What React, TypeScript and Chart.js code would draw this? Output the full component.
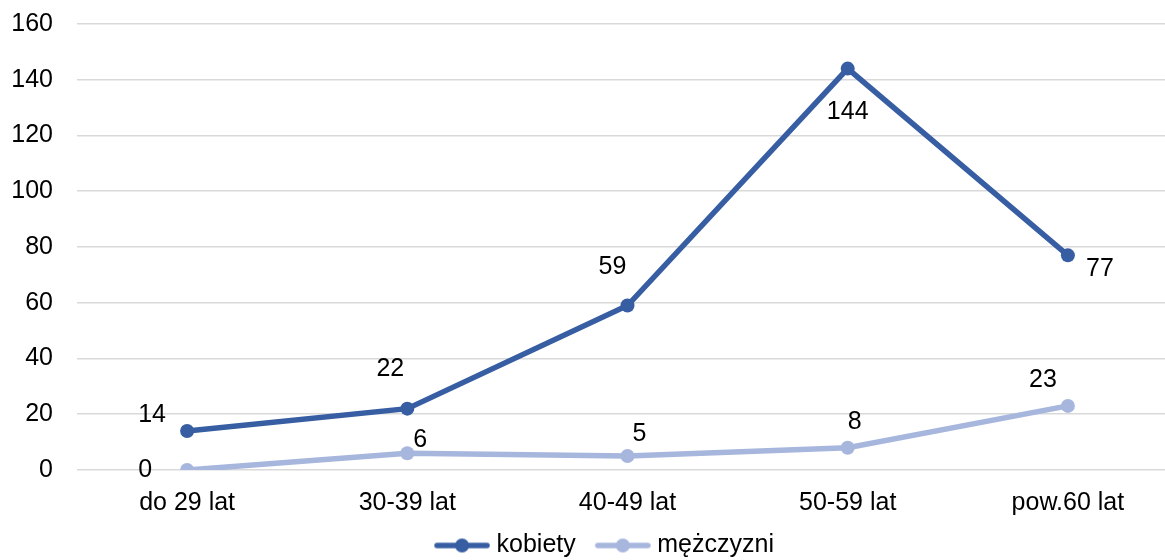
import React, { useEffect, useRef } from "react";
import { Chart, registerables } from "chart.js";

Chart.register(...registerables);

const categories = ["do 29 lat", "30-39 lat", "40-49 lat", "50-59 lat", "pow.60 lat"];
const kobiety = [14, 22, 59, 144, 77];
const mezczyzni = [0, 6, 5, 8, 23];
const seriesNames = ["kobiety", "mężczyzni"];
const yTicks = { min: 0, max: 160, step: 20 };

const colorK = "#375DA2";
const colorM = "#A7B6DD";
const FONT = "'Liberation Sans', Arial, sans-serif";
const FS = 25;
const LW = 5.5;

// data label offsets (dx, dy) relative to each point, per dataset
const labelOffsets = [
  [[-35, -16], [-17, -40], [-15, -38], [0, 44], [32, 14]],
  [[-42, 0], [13, -13], [12, -22], [7, -26], [-25, -26]],
];

function makeMarker(color: string) {
  const c = document.createElement("canvas");
  c.width = 66;
  c.height = 16;
  const ctx = c.getContext("2d")!;
  const a = 10;
  ctx.strokeStyle = color;
  ctx.lineWidth = LW;
  ctx.lineCap = "round";
  ctx.beginPath();
  ctx.moveTo(a + 3, 8);
  ctx.lineTo(a + 53, 8);
  ctx.stroke();
  ctx.fillStyle = color;
  ctx.beginPath();
  ctx.arc(a + 28, 8, 7, 0, Math.PI * 2);
  ctx.fill();
  return c;
}

const dataLabelPlugin = {
  id: "dataLabels",
  afterDatasetsDraw(chart: any) {
    const ctx = chart.ctx;
    ctx.save();
    ctx.font = `${FS}px ${FONT}`;
    ctx.fillStyle = "#000";
    ctx.textAlign = "center";
    ctx.textBaseline = "middle";
    chart.data.datasets.forEach((ds: any, di: number) => {
      const meta = chart.getDatasetMeta(di);
      meta.data.forEach((pt: any, i: number) => {
        const off = labelOffsets[di][i];
        ctx.fillText(String(ds.data[i]), pt.x + off[0], pt.y + off[1]);
      });
    });
    ctx.restore();
  },
};

export default function App() {
  const ref = useRef<HTMLCanvasElement | null>(null);
  useEffect(() => {
    document.body.style.overflow = "hidden";
    const mk = makeMarker(colorK);
    const mm = makeMarker(colorM);
    const chart = new Chart(ref.current!, {
      type: "line",
      data: {
        labels: categories,
        datasets: [
          {
            label: seriesNames[0],
            data: kobiety,
            borderColor: colorK,
            backgroundColor: colorK,
            borderWidth: LW,
            pointRadius: 7,
            pointBorderWidth: 0,
            pointBackgroundColor: colorK,
            pointStyle: "circle",
            tension: 0,
            yAxisID: "y",
          },
          {
            label: seriesNames[1],
            data: mezczyzni,
            borderColor: colorM,
            backgroundColor: colorM,
            borderWidth: LW,
            pointRadius: 7,
            pointBorderWidth: 0,
            pointBackgroundColor: colorM,
            pointStyle: "circle",
            tension: 0,
            yAxisID: "y",
          },
        ],
      },
      options: {
        responsive: false,
        animation: false,
        layout: { padding: { top: 24, left: 0, right: 0, bottom: 0 } },
        plugins: {
          tooltip: { enabled: false },
          legend: {
            position: "bottom",
            labels: {
              usePointStyle: true,
              pointStyleWidth: 54,
              padding: 15,
              color: "#000",
              font: { family: FONT, size: FS },
              generateLabels: (c: any) =>
                c.data.datasets.map((ds: any, i: number) => ({
                  text: ds.label,
                  pointStyle: i === 0 ? mk : mm,
                  fillStyle: ds.borderColor,
                  strokeStyle: ds.borderColor,
                  lineWidth: 0,
                  hidden: false,
                  datasetIndex: i,
                  fontColor: "#000",
                })),
            },
          },
        },
        scales: {
          x: {
            offset: true,
            grid: { display: false, drawTicks: false },
            border: { display: false },
            ticks: {
              color: "#000",
              font: { family: FONT, size: FS },
              padding: 18,
              maxRotation: 0,
            },
            afterFit: (s: any) => {
              s.height = 48;
            },
          },
          y: {
            min: yTicks.min,
            max: yTicks.max,
            grid: { color: "#D9D9D9", lineWidth: 1.6, drawTicks: false },
            border: { display: false },
            ticks: {
              stepSize: yTicks.step,
              color: "#000",
              font: { family: FONT, size: FS },
              padding: 24,
            },
            afterFit: (s: any) => {
              s.width = 77;
              s.paddingTop = 0;
              s.paddingBottom = 0;
            },
          },
          spacer: {
            type: "linear",
            position: "right",
            display: true,
            grid: { display: false, drawTicks: false },
            border: { display: false },
            ticks: { display: false },
            afterFit: (s: any) => {
              s.width = 26;
              s.paddingTop = 0;
              s.paddingBottom = 0;
            },
          },
        },
      },
      plugins: [dataLabelPlugin],
    });
    return () => chart.destroy();
  }, []);
  return (
    <div style={{ position: "fixed", left: 0, top: 0, width: 1204, height: 568 }}>
      <canvas ref={ref} width={1204} height={568} />
    </div>
  );
}
